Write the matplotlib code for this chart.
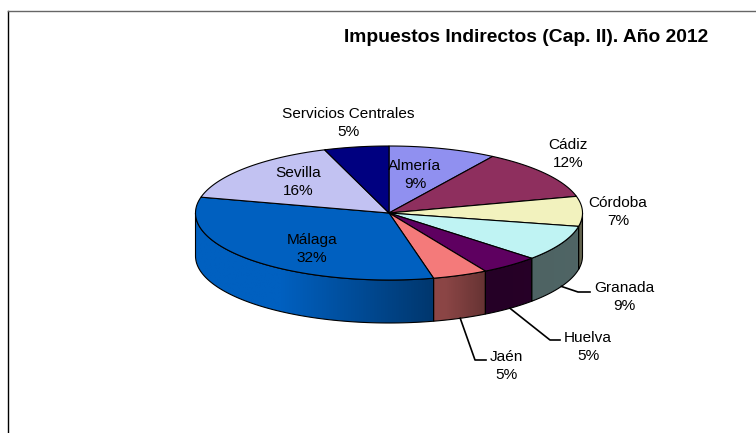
import matplotlib
matplotlib.use("Agg")
import matplotlib.pyplot as plt
import numpy as np
from matplotlib.patches import Polygon

plt.rcParams['font.family'] = ['Liberation Sans', 'DejaVu Sans']

# data
names = ["Almería", "Cádiz", "Córdoba", "Granada", "Huelva", "Jaén", "Málaga", "Sevilla", "Servicios Centrales"]
values = [9.0, 12.0, 7.2, 8.6, 4.9, 4.6, 32.5, 15.8, 5.4]
percents = ["9%", "12%", "7%", "9%", "5%", "5%", "32%", "16%", "5%"]
colors = ["#9090F0", "#8E2F5E", "#F2F2BE", "#BFF3F3", "#5E0060", "#F47A7A", "#0060C0", "#C2C2F2", "#000080"]

# centre of each label, in pixels
label_x = [415, 568, 618, 624, 588, 506, 312, 298, 348]
label_y = [175, 154, 212, 297, 347, 366, 249, 182, 123]

# elbow and end of the leader lines, in pixels
leaders = {"Granada": ((578, 292), (590, 292)),
           "Huelva": ((550, 340), (560, 340)),
           "Jaén": ((475, 360), (486, 360))}

cx, cy = 389, 213
rx, ry = 193.5, 67
depth = 43


def ellipse(a, drop=0):
    # a in radians, clockwise from 12 o'clock
    return cx + rx * np.sin(a), cy - ry * np.cos(a) + drop


fig = plt.figure(figsize=(7.56, 4.33), dpi=100)
ax = fig.add_axes([0, 0, 1, 1])
ax.set_xlim(0, 756)
ax.set_ylim(433, 0)
ax.axis("off")

# chart frame
ax.plot([7.5, 7.5], [433, 10.5], color="black", lw=1)
ax.plot([7.5, 756], [10.5, 10.5], color="#666666", lw=1)

fracs = np.array(values) / sum(values)
edges = np.concatenate([[0], np.cumsum(fracs)]) * 2 * np.pi

# side wall, only the part facing us
for i in range(len(values)):
    a0 = max(edges[i], np.pi / 2)
    a1 = min(edges[i + 1], 3 * np.pi / 2)
    if a1 <= a0:
        continue
    t = np.linspace(a0, a1, 80)
    xs, ys = ellipse(t)
    xb, yb = ellipse(t, depth)
    pts = np.column_stack([np.r_[xs, xb[::-1]], np.r_[ys, yb[::-1]]])
    outline = Polygon(pts, closed=True, fc="none", ec="black", lw=0.8, zorder=3)
    ax.add_patch(outline)
    # light on the left, dark on the right
    x_grad = np.linspace(xs.min(), xs.max(), 100)
    f = np.interp(x_grad, [280, 430, 445, 490, 600], [1.0, 0.58, 0.57, 0.40, 0.42])
    rgb = np.array(matplotlib.colors.to_rgb(colors[i]))
    grad = (f[:, None] * rgb)[None, :, :]
    im = ax.imshow(grad, extent=[x_grad[0], x_grad[-1], yb.max() + 1, ys.min() - 1],
                   aspect="auto", zorder=2, interpolation="bilinear")
    im.set_clip_path(outline)

ax.set_xlim(0, 756)
ax.set_ylim(433, 0)

# top face
for i in range(len(values)):
    t = np.linspace(edges[i], edges[i + 1], 120)
    xs, ys = ellipse(t)
    pts = np.column_stack([np.r_[cx, xs], np.r_[cy, ys]])
    ax.add_patch(Polygon(pts, closed=True, fc=colors[i], ec="black", lw=0.8, zorder=4))

# labels
for i, n in enumerate(names):
    ax.text(label_x[i], label_y[i], n + "\n" + percents[i], ha="center", va="center",
            fontsize=11.1, linespacing=1.38, color="black", zorder=6)
    if n in leaders:
        mid = (edges[i] + edges[i + 1]) / 2
        x0, y0 = ellipse(mid, depth)
        (x1, y1), (x2, y2) = leaders[n]
        ax.plot([x0, x1, x2], [y0, y1, y2], color="black", lw=1.2, zorder=5)

ax.text(526, 37.5, "Impuestos Indirectos (Cap. II). Año 2012", ha="center", va="center",
        fontsize=13.85, fontweight="bold", color="black")

fig.savefig("out.png", dpi=100)
